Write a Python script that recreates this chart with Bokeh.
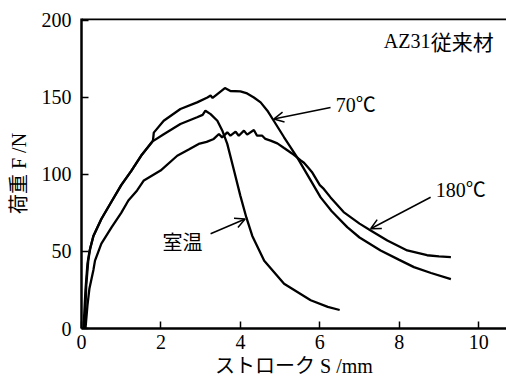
from bokeh.plotting import figure
from bokeh.models import Range1d, FixedTicker, Label, Arrow, OpenHead, Span
from bokeh.embed import file_html
from bokeh.resources import INLINE

# ---- data ----
x_70 = [0.05, 0.1, 0.15, 0.2, 0.3, 0.5, 0.75, 1.0, 1.25, 1.5, 1.8, 1.82, 2.07, 2.49, 2.91, 3.17,
        3.25, 3.3, 3.42, 3.61, 3.75, 4.0, 4.17, 4.34, 4.51, 4.68, 4.84, 5.1, 5.43, 5.77, 6.02,
        6.3, 6.69, 7.0, 7.53, 8.0, 8.37, 8.8, 9.3]
y_70 = [0, 25, 42, 50, 60, 71, 82, 93, 102, 112, 122, 127, 134.7, 142.3, 146.6, 149.8,
        151, 149.5, 152, 155.9, 154, 153.7, 152.4, 149.8, 146.6, 141.2, 134.7, 124, 111, 96, 85,
        76, 65.7, 59, 50.6, 44.5, 39.8, 36, 32]

x_rt = [0.08, 0.12, 0.17, 0.22, 0.3, 0.5, 0.75, 1.0, 1.25, 1.5, 1.8, 2.07, 2.49, 2.91, 3.05,
        3.12, 3.25, 3.42, 3.55, 3.67, 3.84, 4.0, 4.15, 4.3, 4.6, 5.1, 5.77, 6.2, 6.5]
y_rt = [0, 28, 44, 52, 60, 71, 82, 93, 102, 112, 121.5, 126, 132.6, 137, 138.5,
        141.2, 139, 134.7, 128, 119.7, 102.4, 86, 72, 60, 44, 29, 18.3, 14, 12]

x_180 = [0.1, 0.15, 0.2, 0.3, 0.34, 0.5, 0.76, 1.0, 1.18, 1.4, 1.57, 1.99, 2.41, 2.7, 2.95,
         3.15, 3.33, 3.46, 3.54, 3.67, 3.75, 3.88, 3.96, 4.09, 4.17, 4.34, 4.42, 4.55, 4.63,
         4.76, 4.93, 5.1, 5.3, 5.52, 5.6, 5.7, 5.8, 6.0, 6.1, 6.27, 6.6, 7.0, 7.28, 7.7, 8.2,
         8.7, 9.0, 9.3]
y_180 = [0, 15, 26, 38, 44, 55, 65.7, 75, 83, 89.5, 96, 102.4, 112, 116, 119.7,
         121, 122.9, 126.1, 123.9, 127.2, 125, 127.6, 125, 128.3, 125.7, 128.7, 125, 125, 122.9,
         121.8, 120, 117, 113.5, 109, 107.5, 104.5, 101.5, 93, 90.5, 85, 75.5, 68, 63.6, 57, 50.6,
         47.5, 46.7, 46.3]

x_ticks = [0, 2, 4, 6, 8, 10]
y_ticks = [0, 50, 100, 150, 200]

x_title = "ストローク S /mm"
y_title = "荷重 F /N"

SERIF = "Liberation Serif"
JP = "Noto Sans CJK JP"
MIX = "Liberation Serif, Noto Sans CJK JP"

p = figure(width=506, height=379, x_range=Range1d(0, 10.7), y_range=Range1d(0, 201),
           output_backend="svg", toolbar_location=None,
           min_border_left=81, min_border_right=0, min_border_top=18, min_border_bottom=50)
p.outline_line_color = None
p.grid.visible = False
p.background_fill_color = "white"
p.border_fill_color = "white"

for ax, ticks in ((p.xaxis, x_ticks), (p.yaxis, y_ticks)):
    ax.ticker = FixedTicker(ticks=ticks)
    ax.axis_line_width = 2.5
    ax.axis_line_color = "black"
    ax.major_tick_in = 7
    ax.major_tick_out = 0
    ax.major_tick_line_width = 1.5
    ax.minor_tick_in = 0
    ax.minor_tick_out = 0
    ax.major_label_text_font = SERIF
    ax.major_label_text_font_size = "20px"
    ax.major_label_text_color = "black"
    ax.axis_label_text_font = MIX
    ax.axis_label_text_font_size = "20px"
    ax.axis_label_text_font_style = "normal"
    ax.axis_label_text_color = "black"
p.yaxis.major_label_standoff = 10
p.xaxis.major_label_standoff = 6
p.xaxis.axis_label = x_title
p.yaxis.axis_label = y_title
p.xaxis.axis_label_standoff = 3
p.yaxis.axis_label_standoff = 9

p.add_layout(Span(location=200.6, dimension="width", line_color="black", line_width=2.5))

for xs, ys in ((x_70, y_70), (x_rt, y_rt), (x_180, y_180)):
    p.line(xs, ys, line_color="black", line_width=2.3)

def lab(x, y, t, font, size="20px"):
    p.add_layout(Label(x=x, y=y, text=t, text_font=font, text_font_size=size,
                       text_align="left", text_baseline="middle", text_color="black"))

# annotations inside the plot
lab(7.61, 186.5, "AZ31", SERIF)
lab(8.79, 186.5, "従来材", JP, size="21px")
lab(6.40, 145.0, "70℃", MIX)
lab(8.92, 89.5, "180℃", MIX)
lab(2.04, 56.5, "室温", JP)

p.add_layout(Arrow(x_start=6.27, y_start=143.3, x_end=4.84, y_end=135.8,
                   line_width=1.5, end=OpenHead(size=10, line_width=1.5)))
p.add_layout(Arrow(x_start=8.79, y_start=85.1, x_end=7.28, y_end=64.7,
                   line_width=1.5, end=OpenHead(size=10, line_width=1.5)))
p.add_layout(Arrow(x_start=3.25, y_start=61.4, x_end=4.12, y_end=71.0,
                   line_width=1.5, end=OpenHead(size=10, line_width=1.5)))

open("out.html", "w").write(file_html(p, INLINE))
